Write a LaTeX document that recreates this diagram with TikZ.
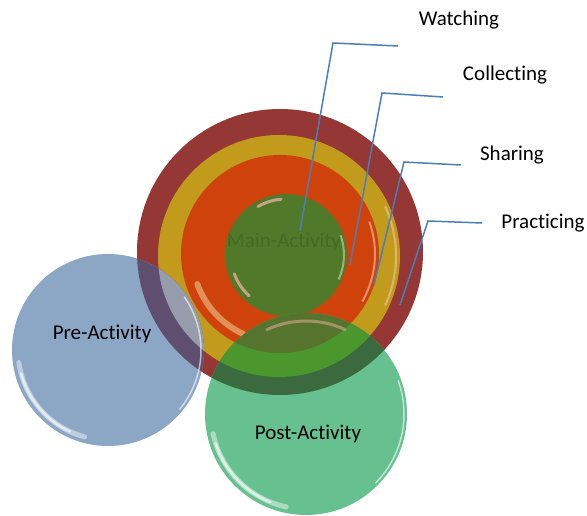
\documentclass[tikz,border=0pt]{standalone}
\usepackage{fontspec}
\setmainfont{Carlito}[Ligatures=NoCommon]
\usetikzlibrary{calc}
\definecolor{maroon}{RGB}{149,55,53}
\definecolor{goldc}{RGB}{194,154,28}
\definecolor{orangec}{RGB}{208,66,12}
\definecolor{innerg}{RGB}{80,122,42}
\definecolor{innert}{RGB}{68,106,38}
\definecolor{preblue}{RGB}{140,166,198}
\definecolor{postgreen}{RGB}{102,192,144}
\definecolor{preM}{RGB}{95,78,112}
\definecolor{preG}{RGB}{150,156,172}
\definecolor{preO}{RGB}{196,156,150}
\definecolor{postM}{RGB}{58,106,62}
\definecolor{postG}{RGB}{76,150,46}
\definecolor{postO}{RGB}{86,116,46}
\definecolor{callout}{RGB}{74,126,187}
\tikzset{
  lbl/.style={font=\fontsize{21}{25}\selectfont, text=black, inner sep=0pt},
  calloutline/.style={draw=callout, line width=1.5pt},
  shine/.style={draw=white, line width=5pt, draw opacity=0.45, line cap=round},
  shinecore/.style={draw=white, line width=2.5pt, draw opacity=0.6, line cap=round},
  pinkshine/.style={draw={rgb,255:red,236;green,176;blue,160}, line width=3pt, draw opacity=0.75, line cap=round}
}
\begin{document}
\begin{tikzpicture}[x=1pt,y=1pt]
\useasboundingbox (0,0) rectangle (587,516);
% centres
\coordinate (cM) at (280,264);
\coordinate (cG) at (279,260);
\coordinate (cO) at (280,262);
\coordinate (cI) at (286,261);
\coordinate (cPre) at (108,166);
\coordinate (cPost) at (306,102);
\def\rM{143pt}\def\rG{121pt}\def\rO{99pt}\def\rI{61pt}\def\rPre{96pt}\def\rPost{101pt}
% main rings
\fill[maroon] (cM) circle[radius=\rM];
\fill[goldc] (cG) circle[radius=\rG];
\draw[draw={rgb,255:red,240;green,200;blue,170}, line width=2pt, draw opacity=.6] ($(cG)+(-25:117pt)$) arc[start angle=-25, end angle=25, radius=117pt];
\fill[orangec] (cO) circle[radius=\rO];
\draw[draw={rgb,255:red,240;green,210;blue,150}, line width=6pt, draw opacity=.55, line cap=round] ($(cO)+(200:88pt)$) arc[start angle=200, end angle=245, radius=88pt];
\draw[draw={rgb,255:red,240;green,200;blue,170}, line width=2pt, draw opacity=.6] ($(cO)+(-30:95pt)$) arc[start angle=-30, end angle=20, radius=95pt];
\fill[innerg] (cI) circle[radius=\rI];
\draw[pinkshine] ($(cI)+(95:56pt)$) arc[start angle=95, end angle=120, radius=56pt];
\draw[pinkshine] ($(cI)+(200:55pt)$) arc[start angle=200, end angle=228, radius=55pt];
\draw[draw={rgb,255:red,200;green,220;blue,170}, line width=2pt, draw opacity=.6] ($(cI)+(-25:58pt)$) arc[start angle=-25, end angle=20, radius=58pt];
\node[lbl, text=innert] (main) at (284,274) {Main-Activity};
% pre-activity
\fill[preblue] (cPre) circle[radius=\rPre];
\begin{scope}
  \clip (cPre) circle[radius=\rPre];
  \fill[preM] (cM) circle[radius=\rM];
  \fill[preG] (cG) circle[radius=\rG];
  \fill[preO] (cO) circle[radius=\rO];
\end{scope}
\draw[shine] ($(cPre)+(188:90pt)$) arc[start angle=188, end angle=255, radius=90pt];
\draw[shinecore] ($(cPre)+(195:90pt)$) arc[start angle=195, end angle=245, radius=90pt];
\draw[draw=white, line width=1.5pt, draw opacity=.6] ($(cPre)+(-40:93pt)$) arc[start angle=-40, end angle=35, radius=93pt];
\node[lbl] (pre) at (102,182) {Pre-Activity};
% post-activity
\fill[postgreen] (cPost) circle[radius=\rPost];
\begin{scope}
  \clip (cPost) circle[radius=\rPost];
  \fill[postM] (cM) circle[radius=\rM];
  \fill[postG] (cG) circle[radius=\rG];
  \fill[postO] (cO) circle[radius=\rO];
\end{scope}
\draw[pinkshine, draw opacity=.5] ($(cPost)+(65:93pt)$) arc[start angle=65, end angle=115, radius=93pt];
\draw[shine] ($(cPost)+(192:95pt)$) arc[start angle=192, end angle=258, radius=95pt];
\draw[shinecore] ($(cPost)+(198:95pt)$) arc[start angle=198, end angle=248, radius=95pt];
\draw[draw=white, line width=1.5pt, draw opacity=.6] ($(cPost)+(-45:98pt)$) arc[start angle=-45, end angle=20, radius=98pt];
\node[lbl] (post) at (308,82) {Post-Activity};
% callouts
\node[lbl] (watching) at (459,496) {Watching};
\node[lbl] (collecting) at (505,441) {Collecting};
\node[lbl] (sharing) at (512,361) {Sharing};
\node[lbl] (practicing) at (543,293) {Practicing};
\coordinate (w1) at (300,285); \coordinate (w2) at (333,473); \coordinate (w3) at (398,470);
\coordinate (c1) at (350,251); \coordinate (c2) at (382,423); \coordinate (c3) at (443,419);
\coordinate (s1) at (374,231); \coordinate (s2) at (404,354); \coordinate (s3) at (461,351);
\coordinate (p1) at (400,211); \coordinate (p2) at (428,295); \coordinate (p3) at (482,293);
\draw[calloutline] (w1) -- (w2) -- (w3);
\draw[calloutline] (c1) -- (c2) -- (c3);
\draw[calloutline] (s1) -- (s2) -- (s3);
\draw[calloutline] (p1) -- (p2) -- (p3);
\end{tikzpicture}
\end{document}
